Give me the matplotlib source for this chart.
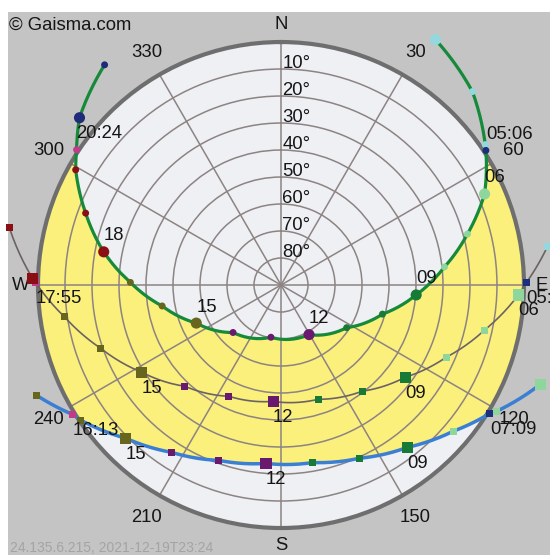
import numpy as np
import matplotlib.pyplot as plt
from matplotlib.path import Path
from matplotlib.patches import PathPatch, Rectangle

plt.rcParams['font.family'] = ['Liberation Sans', 'DejaVu Sans']

# sun positions: azimuth (deg, N=0, clockwise), altitude (deg)
summer_hours = [3, 4, 5, 6, 7, 8, 9, 10, 11, 12, 13, 14, 15, 16, 17, 18, 19, 20, 21, 22]
summer_az = [32.2, 44.7, 55.5, 65.9, 74.7, 83.7, 94.2, 106.0, 123.0, 150.5,
             190.9, 225.3, 245.8, 260.0, 271.0, 280.6, 290.2, 299.3, 309.7, 321.3]
summer_alt = [-17.4, -10.8, -1.8, 7.4, 18.4, 29.1, 39.8, 50.9, 61.0, 68.9,
              70.3, 65.0, 55.6, 45.3, 34.2, 23.2, 12.9, 2.8, -7.0, -14.5]
summer_rise, summer_rise_az = "05:06", 56.7
summer_set, summer_set_az = "20:24", 303.5

equinox_hours = [5, 6, 7, 8, 9, 10, 11, 12, 13, 14, 15, 16, 17, 18, 19]
equinox_az = [81.7, 92.4, 102.5, 113.6, 126.6, 142.6, 162.0, 183.9,
              205.1, 223.5, 238.0, 250.7, 261.6, 271.6, 281.9]
equinox_alt = [-9.8, 2.0, 12.8, 23.2, 32.7, 40.5, 45.5, 46.8,
               44.5, 38.3, 29.1, 19.2, 9.0, -2.1, -12.8]
equinox_rise, equinox_rise_az = "05:53", 89.5
equinox_set, equinox_set_az = "17:55", 270.5

winter_hours = [6, 7, 8, 9, 10, 11, 12, 13, 14, 15, 16, 17]
winter_az = [110.9, 120.4, 130.3, 142.1, 155.7, 169.8, 184.8, 199.5, 213.1, 225.4, 236.0, 245.7]
winter_alt = [-12.9, -2.5, 6.3, 13.8, 19.6, 23.2, 23.7, 21.1, 16.0, 9.2, 0.5, -9.3]
winter_rise, winter_rise_az = "07:09", 121.6
winter_set, winter_set_az = "16:13", 238.1

horizon_alt = -0.8  # rise / set markers sit on the rim

ring_alts = [10, 20, 30, 40, 50, 60, 70, 80]
az_ticks = [0, 30, 60, 90, 120, 150, 180, 210, 240, 270, 300, 330]
az_labels = ['N', '30', '60', 'E', '120', '150', 'S', '210', '240', 'W', '300', '330']

# colours of the hour markers, one per 3-hour block starting at 03
hour_colors = ['#93d8dc', '#8ed69b', '#177a36', '#6a1a6e', '#67661f', '#8a0e13', '#1f2a78']
rise_color = '#1b2f7c'
set_color = '#c33a8b'
txt = '#151515'
fs = 13.3


def to_h(s):
    h, m = s.split(':')
    return int(h) + int(m) / 60


def merged(hours, az, alt, rise, rise_az, sset, set_az):
    t = list(hours) + [to_h(rise), to_h(sset)]
    a = list(az) + [rise_az, set_az]
    e = list(alt) + [horizon_alt, horizon_alt]
    kind = ['h'] * len(hours) + ['rise', 'set']
    o = np.argsort(t)
    return (np.array(t)[o], np.radians(np.array(a)[o]), 90 - np.array(e)[o],
            [kind[i] for i in o])


summer = merged(summer_hours, summer_az, summer_alt, summer_rise, summer_rise_az,
                summer_set, summer_set_az)
equinox = merged(equinox_hours, equinox_az, equinox_alt, equinox_rise, equinox_rise_az,
                 equinox_set, equinox_set_az)
winter = merged(winter_hours, winter_az, winter_alt, winter_rise, winter_rise_az,
                winter_set, winter_set_az)

fig = plt.figure(figsize=(5.5, 5.55), dpi=100, facecolor='white')
fig.add_artist(Rectangle((8 / 550, 0), 1, 1 - 12 / 555, transform=fig.transFigure,
                         facecolor='#c4c4c4', edgecolor='none', zorder=-1))

ax = fig.add_axes([0.0691, 0.0486, 0.8836, 0.8757], projection='polar')
ax.set_theta_zero_location('N')
ax.set_theta_direction(-1)
ax.set_ylim(0, 90)
ax.set_facecolor('#eef0f4')
ax.spines['polar'].set_color('#6e6e6e')
ax.spines['polar'].set_linewidth(3)
ax.set_xticks(np.radians(az_ticks))
ax.set_xticklabels([])
ax.set_yticks([90 - a for a in ring_alts])
ax.set_yticklabels([])
ax.tick_params(length=0)
ax.grid(color='#8d8383', lw=1.1)

# yellow band between the June and December paths (clipped by the horizon)
th = np.concatenate([summer[1], winter[1][::-1], summer[1][:1]])
rr = np.concatenate([summer[2], winter[2][::-1], summer[2][:1]])
band = Path(np.column_stack([th, rr]), _interpolation_steps=20)
ax.add_patch(PathPatch(band, facecolor='#faf07b', edgecolor='none', zorder=1))

styles = [
    (summer, '#168a3a', 2.3, 'o', 1),
    (equinox, '#6b6363', 1.2, 's', -1),
    (winter, '#3b7fd4', 2.5, 's', -1),
]
for (t, th, r, kind), lc, lw, mk, side in styles:
    ln, = ax.plot(th, r, color=lc, lw=lw, clip_on=False, zorder=3)
    ln.get_path()._interpolation_steps = 20
    cols, sizes = [], []
    for ti, k in zip(t, kind):
        if k == 'rise':
            cols.append(rise_color)
            sizes.append(25)
        elif k == 'set':
            cols.append(set_color)
            sizes.append(25)
        else:
            cols.append(hour_colors[int(ti) // 3 - 1])
            sizes.append(64 if int(ti) % 3 == 0 else 25)
    ax.scatter(th, r, s=sizes, c=cols, marker=mk, linewidths=0, clip_on=False, zorder=4)
    for ti, thi, ri, k in zip(t, th, r, kind):
        if k == 'h':
            if int(ti) % 3 != 0 or ri >= 90:
                continue
            lab = f"{int(ti):02d}"
        else:
            lab = f"{int(ti):02d}:{round((ti % 1) * 60):02d}"
        ax.annotate(lab, (thi, ri), xytext=(0, 11.5 * side), textcoords='offset points',
                    ha='left', va='center', fontsize=fs, color=txt, zorder=5,
                    annotation_clip=False)

for a, lab in zip(az_ticks, az_labels):
    rad = 96.5 if lab.isalpha() else 99.5
    ax.text(np.radians(a), rad, lab, ha='center', va='center', fontsize=fs, color=txt)

for a in ring_alts:
    ax.annotate(f"{a}°", (0, 90 - a), xytext=(1, 0.5), textcoords='offset points',
                ha='left', va='baseline', fontsize=fs, color=txt)

fig.text(0.016, 0.955, '© Gaisma.com', fontsize=fs, va='center', color=txt)
fig.text(0.018, 0.0126, '24.135.6.215, 2021-12-19T23:24', fontsize=10,
         color='#a4a4a4', va='center')

fig.savefig('out.png', dpi=100, facecolor=fig.get_facecolor())
